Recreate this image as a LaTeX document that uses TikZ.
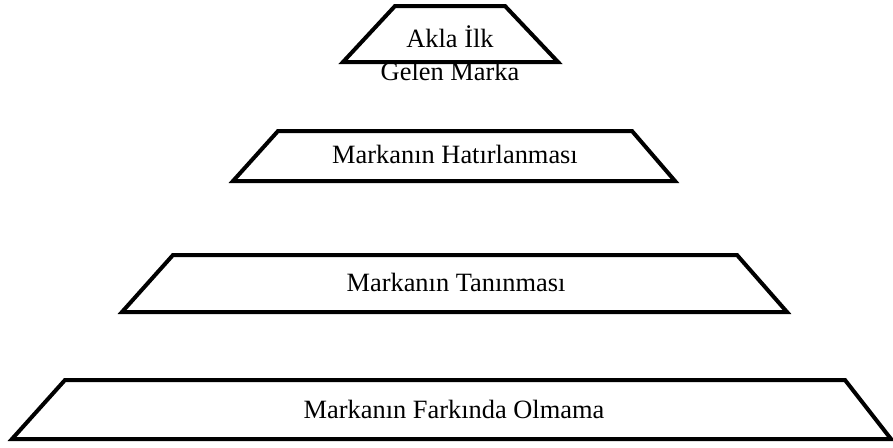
\documentclass[tikz,border=0pt]{standalone}
\usepackage{fontspec}
\setmainfont{Liberation Serif}

\begin{document}
\begin{tikzpicture}[x=0.5pt, y=-0.5pt,
    layer/.style={draw, line width=2pt, line join=miter},
    tag/.style={font=\fontsize{13.2}{16.5}\selectfont, inner sep=0pt}]
    \useasboundingbox (0,0) rectangle (893,447);

    % Level 1: top of the pyramid
    \draw[layer] (343,62) -- (395,6) -- (505,6) -- (558,62) -- cycle;
    \node[tag, align=center] (first) at (450,53.5) {Akla İlk\\Gelen Marka};

    % Level 2
    \draw[layer] (233,181) -- (278,131) -- (632,131) -- (675,181) -- cycle;
    \node[tag, anchor=base] (recall) at (455,163) {Markanın Hatırlanması};

    % Level 3
    \draw[layer] (122,312) -- (173,255) -- (737,255) -- (787,312) -- cycle;
    \node[tag, anchor=base] (recog) at (456,291.5) {Markanın Tanınması};

    % Level 4: base of the pyramid
    \draw[layer] (12,439) -- (65,380) -- (845,380) -- (891,439) -- cycle;
    \node[tag, anchor=base] (unaware) at (454,418) {Markanın Farkında Olmama};

\end{tikzpicture}
\end{document}
